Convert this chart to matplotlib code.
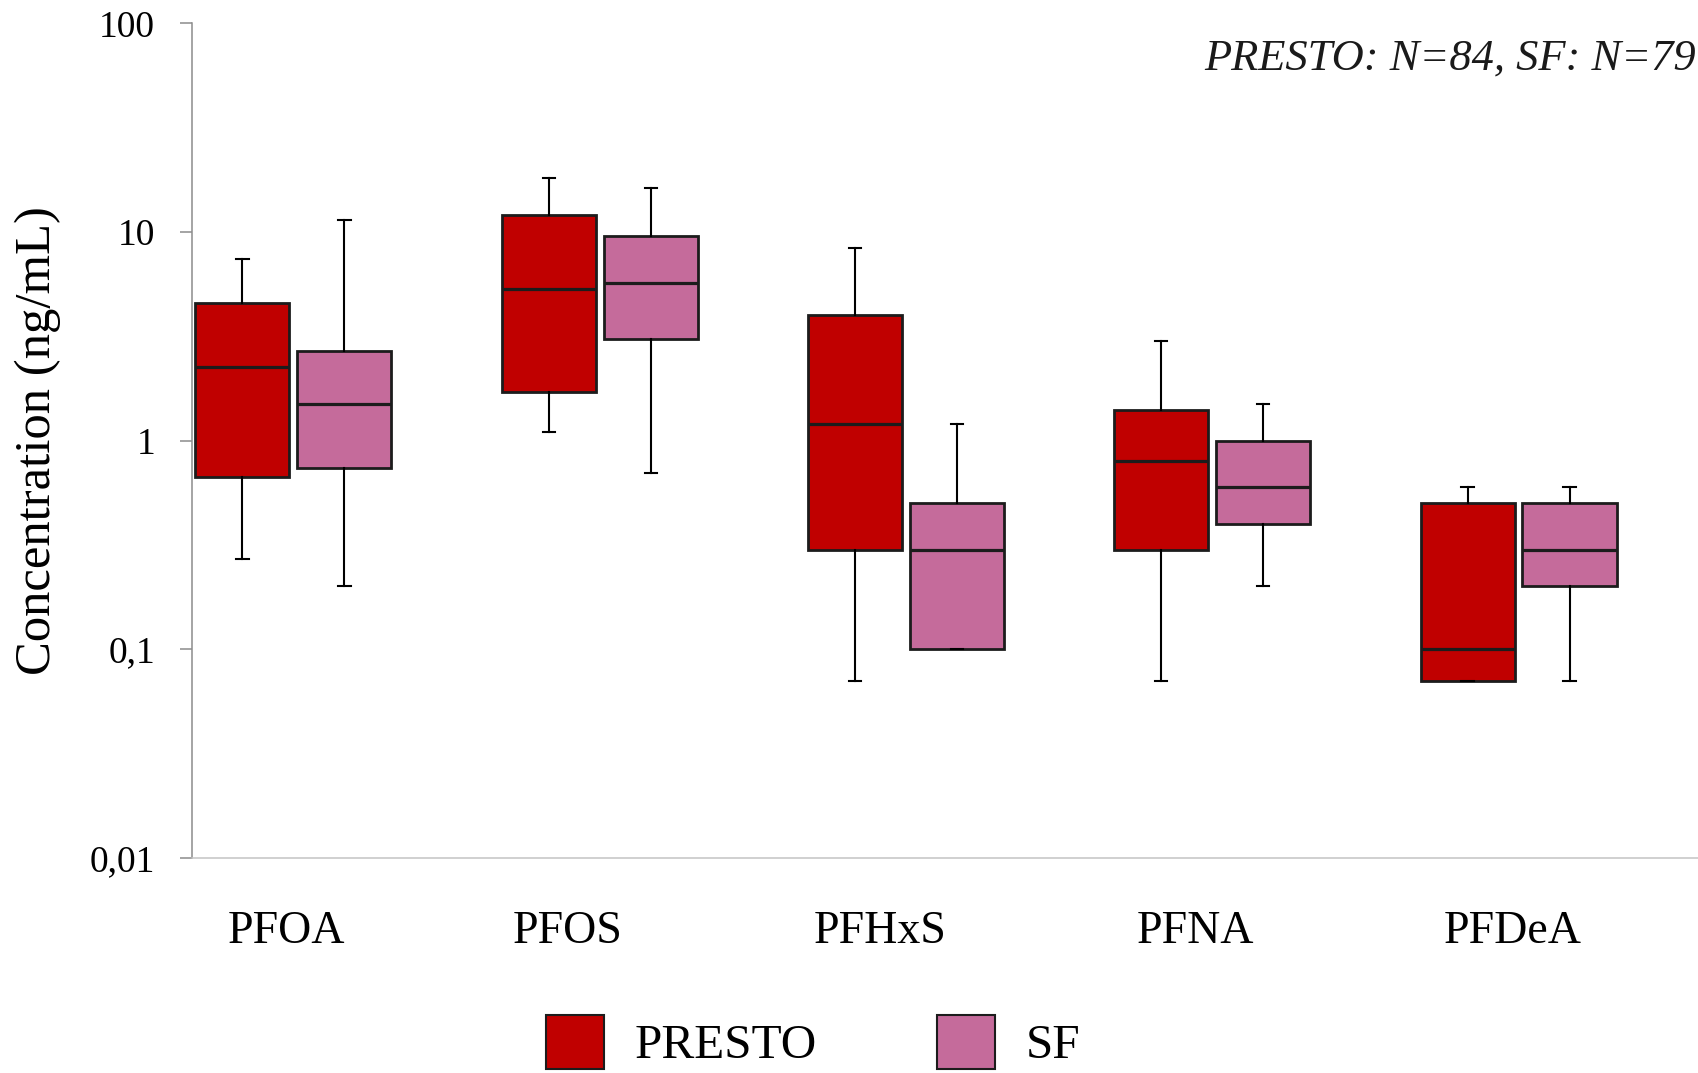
import matplotlib
matplotlib.use("Agg")
import matplotlib.pyplot as plt
import matplotlib.transforms as mtransforms
from matplotlib.patches import Patch
import numpy as np

# ---- data ----
categories = ['PFOA', 'PFOS', 'PFHxS', 'PFNA', 'PFDeA']
series = ['PRESTO', 'SF']

presto_whislo = [0.27, 1.10, 0.07, 0.07, 0.07]
presto_q1     = [0.67, 1.70, 0.30, 0.30, 0.07]
presto_med    = [2.25, 5.35, 1.20, 0.80, 0.10]
presto_q3     = [4.55, 12.1, 4.00, 1.40, 0.50]
presto_whishi = [7.45, 18.1, 8.40, 3.00, 0.60]

sf_whislo = [0.20, 0.70, 0.10, 0.20, 0.07]
sf_q1     = [0.74, 3.08, 0.10, 0.40, 0.20]
sf_med    = [1.50, 5.70, 0.30, 0.60, 0.30]
sf_q3     = [2.69, 9.60, 0.50, 1.00, 0.50]
sf_whishi = [11.4, 16.3, 1.20, 1.50, 0.60]

ytick_values = [0.01, 0.1, 1, 10, 100]
ytick_labels = ['0,01', '0,1', '1', '10', '100']
annotation = 'PRESTO: N=84, SF: N=79'

# ---- style ----
colors = {'PRESTO': '#C00000', 'SF': '#C56B9B'}
edge = '#1c1c1c'
serif = ['Liberation Serif', 'DejaVu Serif']
plt.rcParams['font.family'] = serif
label_shift_px = [-6.5, -32.5, -26, -17, -5.5]   # horizontal nudges of category labels

W, H = 1698, 1073
fig = plt.figure(figsize=(W / 100, H / 100), dpi=100)
ax_left, ax_right = 191.7 / W, 1.0
ax_top, ax_bot = 1 - 23.5 / H, 1 - 857.6 / H
ax = fig.add_axes([ax_left, ax_bot, ax_right - ax_left, ax_top - ax_bot])

def make_stats(lo, q1, med, q3, hi):
    return [dict(whislo=a, q1=b, med=c, q3=d, whishi=e, fliers=[])
            for a, b, c, d, e in zip(lo, q1, med, q3, hi)]

groups = np.arange(len(categories))
offset = 0.1665
width = 0.307

for name, stats, off in [
    ('PRESTO', make_stats(presto_whislo, presto_q1, presto_med, presto_q3, presto_whishi), -offset),
    ('SF', make_stats(sf_whislo, sf_q1, sf_med, sf_q3, sf_whishi), offset),
]:
    ax.bxp(stats, positions=groups + off, widths=width, patch_artist=True,
           showfliers=False, manage_ticks=False, capwidths=0.04,
           boxprops=dict(facecolor=colors[name], edgecolor=edge, linewidth=2.0),
           medianprops=dict(color=edge, linewidth=2.3),
           whiskerprops=dict(color='black', linewidth=1.5),
           capprops=dict(color='black', linewidth=1.5))

ax.set_yscale('log')
ax.set_ylim(0.01, 100)
ax.set_xlim(-0.332, 4.586)
ax.set_yticks(ytick_values)
ax.set_yticklabels(ytick_labels)
ax.yaxis.set_minor_locator(matplotlib.ticker.NullLocator())
ax.set_xticks(groups)
ax.set_xticklabels(categories)

ax.tick_params(axis='y', direction='out', length=8.4, width=1.1, color='#8c8c8c',
               labelsize=27, pad=18)
ax.tick_params(axis='x', length=0, labelsize=33, pad=38)

for lbl, dx in zip(ax.get_xticklabels(), label_shift_px):
    lbl.set_transform(lbl.get_transform() +
                      mtransforms.ScaledTranslation(dx / 100, 0, fig.dpi_scale_trans))

for s in ['top', 'right']:
    ax.spines[s].set_visible(False)
ax.spines['left'].set_color('#8c8c8c')
ax.spines['left'].set_linewidth(1.1)
ax.spines['bottom'].set_color('#c4c4c4')
ax.spines['bottom'].set_linewidth(1.1)

ax.set_ylabel('Concentration (ng/mL)', fontsize=36.5, va='center')
ax.yaxis.set_label_coords((38 - 191.7) / (W - 191.7), 0.5)

fig.text(1 - 2 / W, 1 - 70 / H, annotation, fontsize=32, style='italic',
         ha='right', va='baseline', color='#1a1a1a')

handles = [Patch(facecolor=colors[s], edgecolor=edge, linewidth=1.5) for s in series]
fig.legend(handles, series, loc='upper left', bbox_to_anchor=(546 / W, 1 - 1015 / H),
           ncol=2, frameon=False, fontsize=35.5, handlelength=1.17, handleheight=1.3,
           handletextpad=0.62, columnspacing=2.45, borderpad=0, borderaxespad=0)

fig.savefig('out.png', dpi=100, facecolor='white')
